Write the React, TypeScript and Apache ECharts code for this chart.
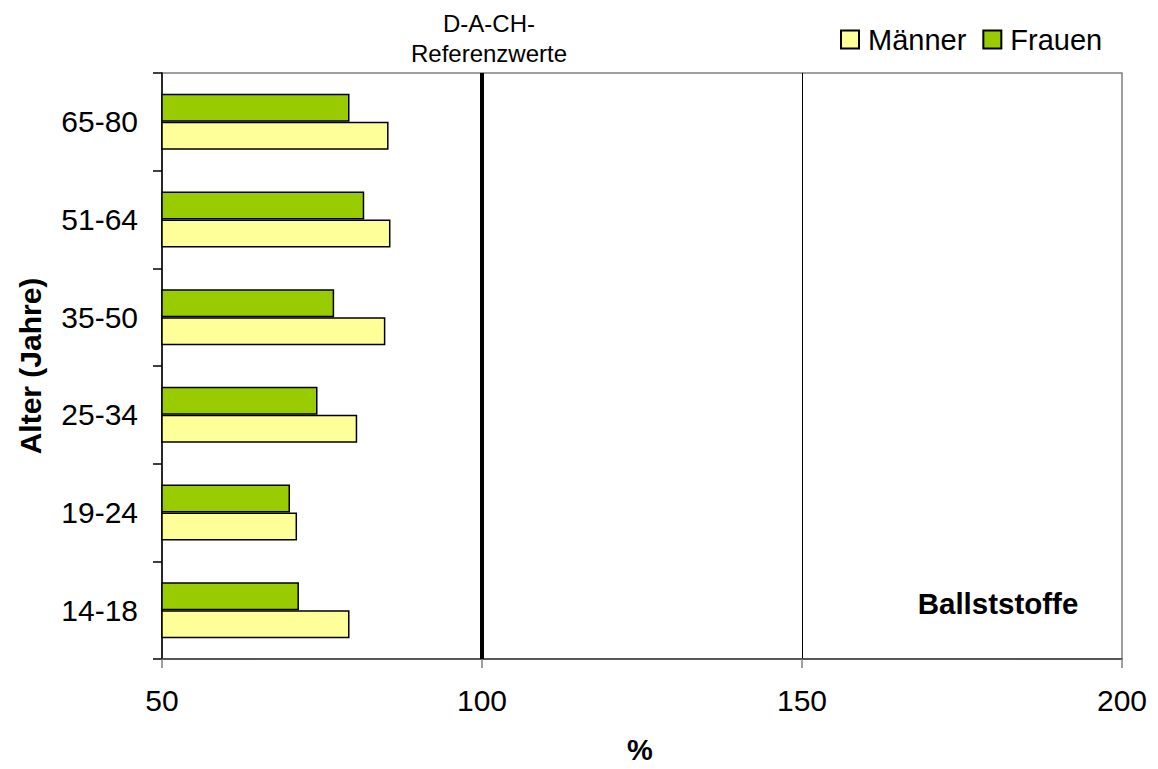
import React, { useEffect, useRef } from "react";
import * as echarts from "echarts";

const categories = ["14-18", "19-24", "25-34", "35-50", "51-64", "65-80"];
const maenner = [79.3, 71.1, 80.5, 84.9, 85.7, 85.4];
const frauen = [71.4, 70.0, 74.3, 76.9, 81.6, 79.3];
const referenceValue = 100;
const xTicks = { min: 50, max: 200, interval: 50 };

const FONT = "Liberation Sans, Arial, sans-serif";

export default function App() {
  const ref = useRef<HTMLDivElement>(null);
  useEffect(() => {
    if (!ref.current) return;
    const chart = echarts.init(ref.current, undefined, { renderer: "svg" });
    chart.setOption({
      animation: false,
      backgroundColor: "#ffffff",
      textStyle: { fontFamily: FONT },
      grid: {
        left: 162,
        right: 36,
        top: 73,
        bottom: 110,
        show: true,
        borderColor: "#808080",
        borderWidth: 1.5,
        containLabel: false,
      },
      legend: {
        left: 840,
        top: 25,
        padding: 0,
        itemWidth: 18,
        itemHeight: 18,
        itemGap: 16,
        icon: "rect",
        textStyle: { fontSize: 29, color: "#000", fontFamily: FONT, padding: [0, 0, 0, 4] },
        data: ["Männer", "Frauen"],
      },
      xAxis: {
        type: "value",
        min: xTicks.min,
        max: xTicks.max,
        interval: xTicks.interval,
        axisLine: { show: true, lineStyle: { color: "#404040", width: 1.5 } },
        axisTick: { show: true, length: 9, lineStyle: { color: "#808080", width: 1.5 } },
        axisLabel: { fontSize: 30, color: "#000", margin: 26, fontFamily: FONT },
        splitLine: {
          show: true,
          showMinLine: false,
          showMaxLine: false,
          lineStyle: { color: "#000", width: 1 },
        },
      },
      yAxis: {
        type: "category",
        data: categories,
        axisLine: { show: true, lineStyle: { color: "#000", width: 1.5 } },
        axisTick: { show: true, length: 9, lineStyle: { color: "#000", width: 1.5 } },
        axisLabel: { fontSize: 30, color: "#000", margin: 24, fontFamily: FONT },
        splitLine: { show: false },
      },
      series: [
        {
          name: "Frauen",
          type: "bar",
          data: frauen,
          barWidth: 28,
          barGap: "0%",
          itemStyle: { color: "#99CC00", borderColor: "#000", borderWidth: 1.5 },
          markLine: {
            silent: true,
            symbol: "none",
            label: { show: false },
            lineStyle: { color: "#000", width: 4, type: "solid" },
            data: [{ xAxis: referenceValue }],
          },
        },
        {
          name: "Männer",
          type: "bar",
          data: maenner,
          barWidth: 28,
          barGap: "0%",
          itemStyle: { color: "#FFFF99", borderColor: "#000", borderWidth: 1.5 },
        },
      ],
      graphic: [
        {
          type: "text",
          x: 489,
          y: 23,
          style: {
            text: "D-A-CH-",
            fontSize: 24,
            fontFamily: FONT,
            fill: "#000",
            textAlign: "center",
            textVerticalAlign: "middle",
          },
        },
        {
          type: "text",
          x: 489,
          y: 53,
          style: {
            text: "Referenzwerte",
            fontSize: 24,
            fontFamily: FONT,
            fill: "#000",
            textAlign: "center",
            textVerticalAlign: "middle",
          },
        },
        {
          type: "text",
          x: 998,
          y: 603,
          style: {
            text: "Ballststoffe",
            fontSize: 29.5,
            fontWeight: "bold",
            fontFamily: FONT,
            fill: "#000",
            textAlign: "center",
            textVerticalAlign: "middle",
          },
        },
        {
          type: "text",
          x: 640,
          y: 750,
          style: {
            text: "%",
            fontSize: 29,
            fontWeight: "bold",
            fontFamily: FONT,
            fill: "#000",
            textAlign: "center",
            textVerticalAlign: "middle",
          },
        },
        {
          type: "text",
          x: 30,
          y: 366,
          rotation: Math.PI / 2,
          style: {
            text: "Alter (Jahre)",
            fontSize: 30,
            fontWeight: "bold",
            fontFamily: FONT,
            fill: "#000",
            textAlign: "center",
            textVerticalAlign: "middle",
          },
        },
      ],
    });
    return () => chart.dispose();
  }, []);
  return (
    <div
      ref={ref}
      style={{ position: "absolute", left: 0, top: 0, width: 1158, height: 769 }}
    />
  );
}
